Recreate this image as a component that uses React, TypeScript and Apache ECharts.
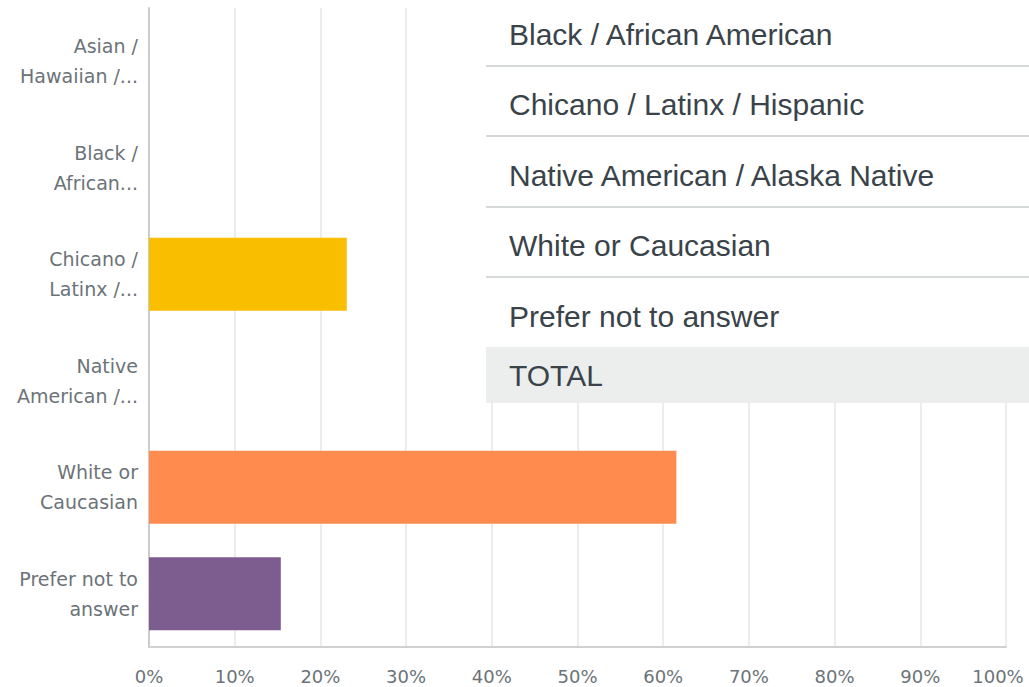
import React, { useEffect, useRef } from "react";
import * as echarts from "echarts";

const categoryLabels = [
  "Asian /\nHawaiian /...",
  "Black /\nAfrican...",
  "Chicano /\nLatinx /...",
  "Native\nAmerican /...",
  "White or\nCaucasian",
  "Prefer not to\nanswer",
];
const percentValues = [0, 0, 23.08, 0, 61.54, 15.38];
const barColors = ["#f9be00", "#f9be00", "#f9be00", "#f9be00", "#ff8b4f", "#7d5c8f"];
const xTicks = [0, 10, 20, 30, 40, 50, 60, 70, 80, 90, 100];
const tableRows = [
  "Black / African American",
  "Chicano / Latinx / Hispanic",
  "Native American / Alaska Native",
  "White or Caucasian",
  "Prefer not to answer",
];
const totalLabel = "TOTAL";

export default function App() {
  const ref = useRef<HTMLDivElement>(null);
  useEffect(() => {
    if (!ref.current) return;
    const chart = echarts.init(ref.current, null, { renderer: "svg" });
    const rowTextY = [34, 104, 175, 245, 316];
    const lineY = [66, 136, 207, 277];
    const tableFont = {
      fill: "#3a434a",
      fontFamily: "'Liberation Sans', Arial, sans-serif",
      fontSize: 30,
      verticalAlign: "middle",
      align: "left",
    };
    const graphics: any[] = [
      { type: "rect", z: 100, shape: { x: 486, y: 0, width: 543, height: 347 }, style: { fill: "#ffffff" } },
      { type: "rect", z: 100, shape: { x: 486, y: 347, width: 543, height: 56 }, style: { fill: "#eceeee" } },
    ];
    lineY.forEach((y) => {
      graphics.push({
        type: "line",
        z: 101,
        shape: { x1: 486, y1: y, x2: 1029, y2: y },
        style: { stroke: "#d6d9d9", lineWidth: 2 },
      });
    });
    tableRows.forEach((t, i) => {
      graphics.push({ type: "text", z: 102, x: 509, y: rowTextY[i], style: { ...tableFont, text: t } });
    });
    graphics.push({ type: "text", z: 102, x: 509, y: 375, style: { ...tableFont, text: totalLabel } });

    const maxTick = xTicks[xTicks.length - 1];
    chart.setOption({
      animation: false,
      backgroundColor: "#ffffff",
      grid: { left: 149, right: 23, top: 8, bottom: 40, containLabel: false, outerBoundsMode: "none" },
      xAxis: {
        type: "value",
        min: xTicks[0],
        max: maxTick,
        interval: 10,
        axisLine: { show: true, lineStyle: { color: "#d0d0d0", width: 2 } },
        axisTick: { show: false },
        splitLine: { show: true, lineStyle: { color: "#ececec", width: 2 } },
        axisLabel: {
          formatter: (v: number) => (v === maxTick ? "{m|" + v + "%}" : v + "%"),
          color: "#6b7378",
          fontFamily: "'DejaVu Sans', sans-serif",
          fontSize: 18,
          lineHeight: 20,
          margin: 19,
          rich: {
            m: {
              color: "#6b7378",
              fontFamily: "'DejaVu Sans', sans-serif",
              fontSize: 18,
              lineHeight: 20,
              padding: [0, 16, 0, 0],
            },
          },
        },
      },
      yAxis: {
        type: "category",
        inverse: true,
        data: categoryLabels,
        axisLine: { show: true, lineStyle: { color: "#cccccc", width: 2 } },
        axisTick: { show: false },
        splitLine: { show: false },
        axisLabel: {
          color: "#6b7378",
          fontFamily: "'DejaVu Sans', sans-serif",
          fontSize: 19,
          lineHeight: 30,
          margin: 11,
          align: "right",
        },
      },
      series: [
        {
          type: "bar",
          barWidth: "68.5%",
          data: percentValues.map((v, i) => ({ value: v, itemStyle: { color: barColors[i] } })),
          z: 2,
        },
      ],
      graphic: graphics,
    });
    return () => chart.dispose();
  }, []);
  return (
    <div
      ref={ref}
      style={{ position: "fixed", left: 0, top: 0, width: 1029, height: 687, background: "#fff" }}
    />
  );
}
